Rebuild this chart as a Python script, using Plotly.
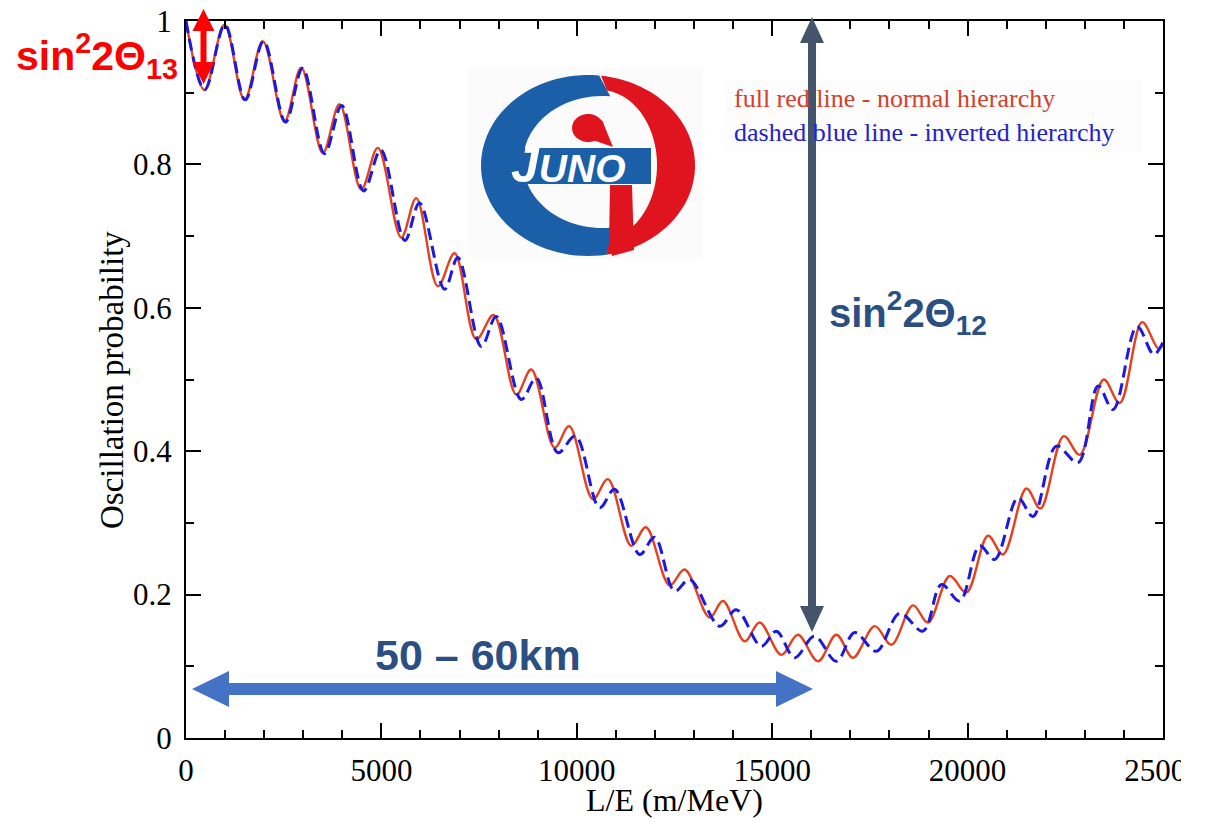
import numpy as np
import plotly.graph_objects as go

# ---------------- data (extrema of each curve) ----------------
nh_x = [0, 473, 985, 1497, 1966, 2521, 2949, 3501, 3929, 4484, 4909, 5508, 5892, 6445, 6872,
        7428, 7871, 8451, 8835, 9432, 9806, 10412, 10796, 11395, 11769, 12375, 12759, 13399,
        13740, 14295, 14679, 15234, 15659, 16171, 16642, 17067, 17623, 18050, 18603, 18987,
        19542, 19969, 20522, 20906, 21505, 21863, 22460, 22869, 23483, 23893, 24464, 24880, 25000]
nh_y = [1.000, 0.904, 0.995, 0.890, 0.972, 0.860, 0.935, 0.816, 0.884, 0.765, 0.823, 0.698,
        0.753, 0.630, 0.676, 0.556, 0.590, 0.479, 0.514, 0.405, 0.435, 0.333, 0.361, 0.268,
        0.294, 0.213, 0.235, 0.168, 0.191, 0.135, 0.161, 0.116, 0.144, 0.107, 0.144, 0.112,
        0.156, 0.130, 0.185, 0.161, 0.226, 0.203, 0.282, 0.256, 0.348, 0.320, 0.421, 0.395,
        0.500, 0.467, 0.580, 0.543, 0.548]

ih_x = [0, 480, 995, 1515, 1985, 2545, 2985, 3545, 3985, 4545, 4985, 5600, 5976, 6616, 6957,
        7556, 7940, 8580, 8963, 9516, 9965, 10583, 10967, 11607, 11991, 12503, 12887, 13655,
        14082, 14722, 15106, 15575, 16082, 16642, 17111, 17666, 18262, 18858, 19329, 19798,
        20310, 20694, 21290, 21674, 22273, 22826, 23338, 23722, 24336, 24763, 25000]
ih_y = [1.000, 0.904, 0.995, 0.890, 0.972, 0.859, 0.934, 0.815, 0.882, 0.763, 0.820, 0.694,
        0.746, 0.626, 0.670, 0.546, 0.588, 0.472, 0.502, 0.398, 0.421, 0.321, 0.347, 0.256,
        0.280, 0.205, 0.221, 0.156, 0.179, 0.128, 0.149, 0.112, 0.142, 0.107, 0.147, 0.121,
        0.174, 0.149, 0.214, 0.191, 0.268, 0.249, 0.335, 0.309, 0.407, 0.384, 0.491, 0.458,
        0.574, 0.535, 0.552]

x_ticks = [0, 5000, 10000, 15000, 20000, 25000]
y_ticks = [0, 0.2, 0.4, 0.6, 0.8, 1]
y_tick_text = ["0", "0.2", "0.4", "0.6", "0.8", "1"]

# ---------------- layout geometry (pixels) ----------------
W, H = 1205, 822
PL, PR, PT, PB = 186, 1163, 21, 738


def fx(x):
    return (x - PL) / (PR - PL)


def fy(y):
    return (PB - y) / (PB - PT)


def poly(points, color, layer="above"):
    d = "M " + " L ".join(f"{fx(x):.5f},{fy(y):.5f}" for x, y in points) + " Z"
    return dict(type="path", path=d, xref="paper", yref="paper",
                fillcolor=color, line=dict(width=0), layer=layer)


def ellipse_pts(cx, cy, rx, ry, a0, a1, n=60):
    t = np.radians(np.linspace(a0, a1, n))
    return list(zip(cx + rx * np.cos(t), cy - ry * np.sin(t)))


def varrow(x, ytop, ybot, sw, hw, hl, color):
    return poly([(x, ytop), (x + hw / 2, ytop + hl), (x + sw / 2, ytop + hl),
                 (x + sw / 2, ybot - hl), (x + hw / 2, ybot - hl), (x, ybot),
                 (x - hw / 2, ybot - hl), (x - sw / 2, ybot - hl),
                 (x - sw / 2, ytop + hl), (x - hw / 2, ytop + hl)], color)


def harrow(y, xl, xr, sw, hh, hl, color):
    return poly([(xl, y), (xl + hl, y - hh / 2), (xl + hl, y - sw / 2),
                 (xr - hl, y - sw / 2), (xr - hl, y - hh / 2), (xr, y),
                 (xr - hl, y + hh / 2), (xr - hl, y + sw / 2),
                 (xl + hl, y + sw / 2), (xl + hl, y + hh / 2)], color)


fig = go.Figure()
fig.add_trace(go.Scatter(x=nh_x, y=nh_y, mode="lines",
                         line=dict(color="#e4411f", width=2.4, shape="spline", smoothing=1),
                         name="normal hierarchy", showlegend=False, hoverinfo="skip"))
fig.add_trace(go.Scatter(x=ih_x, y=ih_y, mode="lines",
                         line=dict(color="#1a1ae0", width=3, dash="12px,6px",
                                   shape="spline", smoothing=1),
                         name="inverted hierarchy", showlegend=False, hoverinfo="skip"))

LOGO_BLUE = "#1a5fa8"
LOGO_RED = "#e0141e"
shapes = []
# faint boxes behind logo and legend text
shapes.append(poly([(468, 68), (702, 68), (702, 259), (468, 259)], "#fbfbfb", layer="below"))
shapes.append(poly([(726, 80), (1142, 80), (1142, 152), (726, 152)], "#fcfcfc", layer="below"))
# logo blue ring
outer_b = ellipse_pts(588, 165.5, 107, 90.5, 84, 280)
inner_b = ellipse_pts(602, 162, 79, 66, 280, 84)
shapes.append(poly(outer_b + inner_b, LOGO_BLUE))
# blue bar
shapes.append(poly([(515, 148), (651, 148), (651, 184), (515, 184)], LOGO_BLUE))
# red crescent
outer_r = ellipse_pts(588, 165.5, 107, 90.5, -80, 83)
inner_r = ellipse_pts(600, 165, 57, 75, 83, -80)
shapes.append(poly(outer_r + inner_r, LOGO_RED))
# red stem
shapes.append(poly([(610, 185), (632, 185), (634, 250), (612, 256), (609, 245)], LOGO_RED))
# red dot (teardrop)
dot = ellipse_pts(588, 128, 16, 14, 0, 360, 40)
shapes.append(poly(dot, LOGO_RED))
shapes.append(poly([(602, 120), (613, 147), (590, 139)], LOGO_RED))

# arrows
shapes.append(varrow(203.5, 9, 84, 6, 22, 22, "#ff0000"))
shapes.append(varrow(812, 17, 632, 8, 24, 26, "#44546a"))
shapes.append(harrow(689, 192, 813, 12, 36, 37, "#4472c4"))
# clip of the last x tick label (as in the cropped source)
shapes.append(dict(type="rect", xref="paper", yref="paper", x0=fx(1181), x1=fx(1210),
                   y0=fy(790), y1=fy(742), fillcolor="white", line=dict(width=0), layer="above"))

DARK_BLUE = "#2b4f82"
annotations = [
    dict(text="sin<sup>2</sup>2Θ<sub>13</sub>", x=fx(97), y=fy(56), xref="paper", yref="paper",
         showarrow=False, xanchor="center", yanchor="middle",
         font=dict(family="Liberation Sans", size=41, color="#ff0000", weight="bold")),
    dict(text="sin<sup>2</sup>2Θ<sub>12</sub>", x=fx(908), y=fy(313), xref="paper", yref="paper",
         showarrow=False, xanchor="center", yanchor="middle",
         font=dict(family="Liberation Sans", size=40, color=DARK_BLUE, weight="bold")),
    dict(text="50 – 60km", x=fx(478), y=fy(655), xref="paper", yref="paper",
         showarrow=False, xanchor="center", yanchor="middle",
         font=dict(family="Liberation Sans", size=43, color=DARK_BLUE, weight="bold")),
    dict(text="full red line - normal hierarchy", x=fx(732), y=fy(98), xref="paper",
         yref="paper", showarrow=False, xanchor="left", yanchor="middle",
         font=dict(family="Liberation Serif", size=26, color="#d4402c")),
    dict(text="dashed blue line - inverted hierarchy", x=fx(732), y=fy(133), xref="paper",
         yref="paper", showarrow=False, xanchor="left", yanchor="middle",
         font=dict(family="Liberation Serif", size=26, color="#2222c8")),
    dict(text='<span style="font-size:50px">J</span>UNO', x=fx(568), y=fy(165),
         xref="paper", yref="paper", showarrow=False, xanchor="center", yanchor="middle",
         font=dict(family="Liberation Sans", size=39, color="white", weight="bold",
                   style="italic")),
    dict(text="L/E (m/MeV)", x=fx(674), y=fy(800), xref="paper", yref="paper",
         showarrow=False, xanchor="center", yanchor="middle",
         font=dict(family="Liberation Serif", size=32, color="black")),
    dict(text="Oscillation probability", x=fx(112), y=fy(380), xref="paper", yref="paper",
         showarrow=False, xanchor="center", yanchor="middle", textangle=-90,
         font=dict(family="Liberation Serif", size=33, color="black")),
]

axis_common = dict(showline=True, linecolor="black", linewidth=2, mirror="ticks",
                   ticks="inside", ticklen=15, tickwidth=2, tickcolor="black",
                   showgrid=False, zeroline=False, automargin=False,
                   tickfont=dict(family="Liberation Serif", size=31, color="black"))

fig.update_layout(
    width=W, height=H,
    margin=dict(l=PL, r=W - PR, t=PT, b=H - PB, pad=0),
    paper_bgcolor="white", plot_bgcolor="white",
    showlegend=False,
    shapes=shapes,
    annotations=annotations,
    xaxis=dict(range=[0, 25000], tickvals=x_ticks, tickformat="d", ticklabelstandoff=4,
               minor=dict(dtick=1000, ticks="inside", ticklen=8, tickwidth=2,
                          tickcolor="black", showgrid=False),
               **axis_common),
    yaxis=dict(range=[0, 1], tickvals=y_ticks, ticktext=y_tick_text, ticklabelstandoff=6,
               minor=dict(dtick=0.1, ticks="inside", ticklen=8, tickwidth=2,
                          tickcolor="black", showgrid=False),
               **axis_common),
)

fig.write_html("out.html", config={"displayModeBar": False},
               post_script="document.body.style.margin='0';"
                           "document.body.style.overflow='hidden';")
